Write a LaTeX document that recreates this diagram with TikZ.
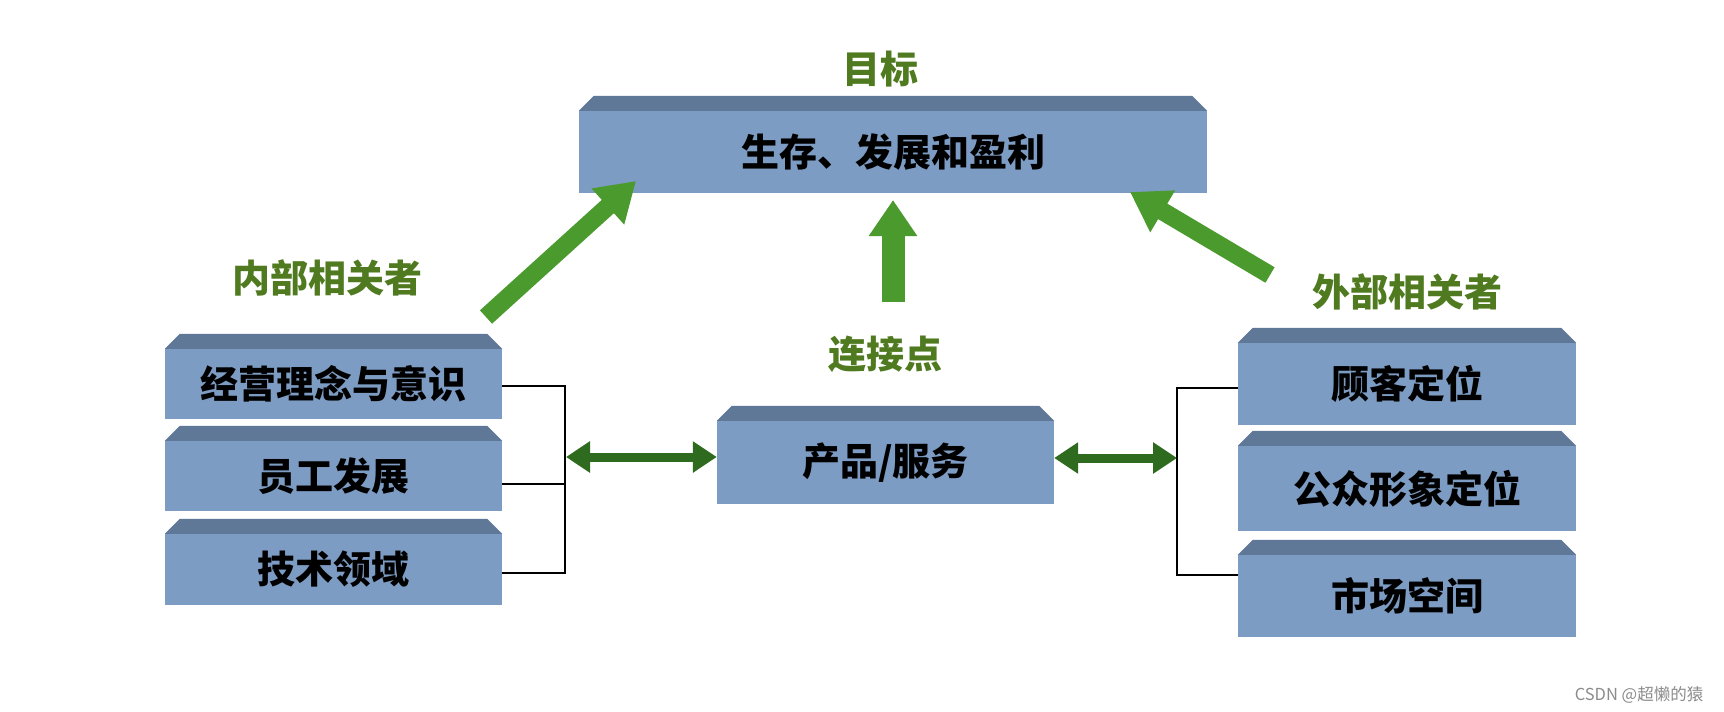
\documentclass[tikz,border=0pt]{standalone}
\usepackage{fontspec}
\setmainfont{Noto Sans CJK SC}
\usetikzlibrary{arrows.meta}
\definecolor{front}{HTML}{7D9CC3}
\definecolor{topc}{HTML}{5F7898}
\definecolor{garrow}{HTML}{4B9A2E}
\definecolor{gdark}{HTML}{2E6B1F}
\definecolor{glabel}{HTML}{4F7A1F}
\begin{document}
\begin{tikzpicture}[x=1pt,y=-1pt,
  slab/.style={rectangle, fill=front, inner sep=0pt, text=black,
    font=\bfseries\fontsize{38}{40}\selectfont},
  lbl/.style={inner sep=0pt, text=glabel, font=\bfseries\fontsize{38}{40}\selectfont},
  bigarrow/.style={draw=garrow, line width=18pt, -{Triangle[length=38pt,width=46pt]}},
  uparrow/.style={draw=garrow, line width=23pt, -{Triangle[length=36pt,width=46pt]}},
  dbl/.style={draw=gdark, line width=9pt, {Triangle[length=24pt,width=30pt]}-{Triangle[length=24pt,width=30pt]}},
  bracket/.style={draw=black, line width=1.4pt},
  topface/.style={fill=topc}]
\fill[white] (0,0) rectangle (1724,712);
\useasboundingbox (0,0) rectangle (1724,712);

% boxes
\node[slab, minimum width=628pt, minimum height=82pt] (goal) at (893,152) {生存、发展和盈利};
\node[slab, minimum width=337pt, minimum height=70pt] (l1) at (333.5,384) {经营理念与意识};
\node[slab, minimum width=337pt, minimum height=70pt] (l2) at (333.5,476) {员工发展};
\node[slab, minimum width=337pt, minimum height=71pt] (l3) at (333.5,569.5) {技术领域};
\node[slab, minimum width=338pt, minimum height=82pt] (r1) at (1407,384) {顾客定位};
\node[slab, minimum width=338pt, minimum height=85pt] (r2) at (1407,488.5) {公众形象定位};
\node[slab, minimum width=338pt, minimum height=82pt] (r3) at (1407,596) {市场空间};
\node[slab, minimum width=337pt, minimum height=83pt] (prod) at (885.5,462.5) {产品/服务};

\foreach \n in {goal,l1,l2,l3,r1,r2,r3,prod}
  \fill[topface] (\n.north west) -- ([xshift=15pt,yshift=15pt]\n.north west)
     -- ([xshift=-15pt,yshift=15pt]\n.north east) -- (\n.north east) -- cycle;

% labels
\node[lbl] (lgoal) at (880,69) {目标};
\node[lbl] (lin) at (327,278) {内部相关者};
\node[lbl] (lout) at (1407,292) {外部相关者};
\node[lbl] (llink) at (885,354) {连接点};

% big arrows
\coordinate (a1s) at (486,317);
\coordinate (a1e) at (636,181);
\coordinate (a2s) at (893,302);
\coordinate (a2e) at (893,200);
\coordinate (a3s) at (1270,275);
\coordinate (a3e) at (1130,192);
\draw[bigarrow] (a1s) -- (a1e);
\draw[uparrow] (a2s) -- (a2e);
\draw[bigarrow] (a3s) -- (a3e);

% brackets
\coordinate (lb1) at (565,386);
\coordinate (lb2) at (565,484);
\coordinate (lb3) at (565,573);
\draw[bracket] (l1.east |- lb1) -- (lb1) -- (lb3) -- (l3.east |- lb3);
\draw[bracket] (l2.east |- lb2) -- (lb2);
\coordinate (rb1) at (1177,388);
\coordinate (rb3) at (1177,575);
\draw[bracket] (r1.west |- rb1) -- (rb1) -- (rb3) -- (r3.west |- rb3);

% double arrows
\coordinate (lam) at (566,457);
\coordinate (ram) at (1177,458);
\draw[dbl] (lam) -- (prod.west |- lam);
\draw[dbl] (prod.east |- ram) -- (ram);

% watermark
\node[inner sep=0pt, text=black!45, font=\fontsize{16.5}{18}\selectfont] (wm) at (1639,695) {CSDN @超懒的猿};
\end{tikzpicture}
\end{document}
